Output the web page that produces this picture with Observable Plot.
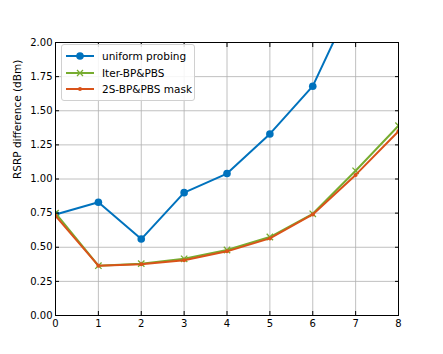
<!DOCTYPE html>
<html><head><meta charset="utf-8">
<script src="https://cdn.jsdelivr.net/npm/d3@7"></script>
<script src="https://cdn.jsdelivr.net/npm/@observablehq/plot@0.6"></script>
<style>
body{margin:0;background:#fff;font-family:"DejaVu Sans",sans-serif;}
#wrap{position:relative;width:443px;height:354px;}
#legend{position:absolute;left:61px;top:44px;width:132px;height:55px;border:1px solid #d0d0d0;border-radius:3px;background:rgba(255,255,255,0.85);font-size:10.5px;}
#legend .row{position:absolute;left:4px;height:14px;display:flex;align-items:center;}
#legend svg{margin-right:8px}
</style></head><body>
<div id="wrap"></div>
<script>
const xs = [0,1,2,3,4,5,6,7,8];
const uniform = [0.74,0.83,0.56,0.90,1.04,1.33,1.68,2.35,3.0];
const iter = [0.75,0.365,0.38,0.415,0.48,0.575,0.745,1.06,1.39];
const twoS = [0.73,0.365,0.375,0.405,0.47,0.565,0.74,1.03,1.35];
const names = ["uniform probing","Iter-BP&PBS","2S-BP&PBS mask"];
const colors = ["#0072BD","#77AC30","#D95319"];
const xTicks = [0,1,2,3,4,5,6,7,8];
const yTicks = [0,0.25,0.5,0.75,1.0,1.25,1.5,1.75,2.0];

const mk = (arr) => xs.map((x,i)=>({x, y: arr[i]}));
const dU = mk(uniform), dI = mk(iter), dS = mk(twoS);
const blank = () => "";

const chart = Plot.plot({
  width: 443, height: 354,
  marginLeft: 55, marginRight: 45, marginTop: 42, marginBottom: 39,
  style: {fontFamily: "DejaVu Sans, sans-serif", fontSize: "10px", color: "#000", background: "#fff"},
  x: {domain: [0,8], ticks: xTicks},
  y: {domain: [0,2], ticks: yTicks},
  marks: [
    Plot.gridX(xTicks, {stroke: "#b0b0b0", strokeOpacity: 1, strokeWidth: 0.8}),
    Plot.gridY(yTicks, {stroke: "#b0b0b0", strokeOpacity: 1, strokeWidth: 0.8}),
    Plot.line(dU, {x: "x", y: "y", stroke: colors[0], strokeWidth: 2, clip: true}),
    Plot.dot(dU, {x: "x", y: "y", fill: colors[0], r: 3.8, clip: true}),
    Plot.line(dI, {x: "x", y: "y", stroke: colors[1], strokeWidth: 2, clip: true}),
    Plot.dot(dI, {x: "x", y: "y", stroke: colors[1], symbol: "times", r: 3, strokeWidth: 1.3, clip: true}),
    Plot.line(dS, {x: "x", y: "y", stroke: colors[2], strokeWidth: 2, clip: true}),
    Plot.dot(dS, {x: "x", y: "y", fill: colors[2], r: 2, clip: true}),
    Plot.frame({stroke: "#000", strokeWidth: 1}),
    Plot.axisX(xTicks, {anchor: "bottom", tickSize: -4, tickPadding: 8, label: null, tickFormat: d=>String(d)}),
    Plot.axisX(xTicks, {anchor: "top", tickSize: -4, label: null, tickFormat: blank}),
    Plot.axisY(yTicks, {anchor: "left", tickSize: -4, tickPadding: 7, label: null, tickFormat: d=>d.toFixed(2)}),
    Plot.axisY(yTicks, {anchor: "right", tickSize: -4, label: null, tickFormat: blank}),
    Plot.text(["RSRP difference (dBm)"], {frameAnchor: "left", dx: -38, rotate: -90, fontSize: 10.5, fill: "#000"})
  ]
});
const wrap = document.getElementById("wrap");
wrap.appendChild(chart);

const leg = document.createElement("div");
leg.id = "legend";
const sw = [
  `<line x1="0" y1="5" x2="28" y2="5" stroke="${colors[0]}" stroke-width="2"/><circle cx="14" cy="5" r="3.8" fill="${colors[0]}"/>`,
  `<line x1="0" y1="5" x2="28" y2="5" stroke="${colors[1]}" stroke-width="2"/><path d="M11,2 L17,8 M17,2 L11,8" stroke="${colors[1]}" stroke-width="1.3"/>`,
  `<line x1="0" y1="5" x2="28" y2="5" stroke="${colors[2]}" stroke-width="2"/><circle cx="14" cy="5" r="2" fill="${colors[2]}"/>`
];
names.forEach((n,i)=>{
  const r = document.createElement("div");
  r.className = "row";
  r.style.top = (4 + i*16.5) + "px";
  r.innerHTML = `<svg width="28" height="10">${sw[i]}</svg><span>${n.replace(/&/g,"&amp;")}</span>`;
  leg.appendChild(r);
});
wrap.appendChild(leg);
</script>
</body></html>
